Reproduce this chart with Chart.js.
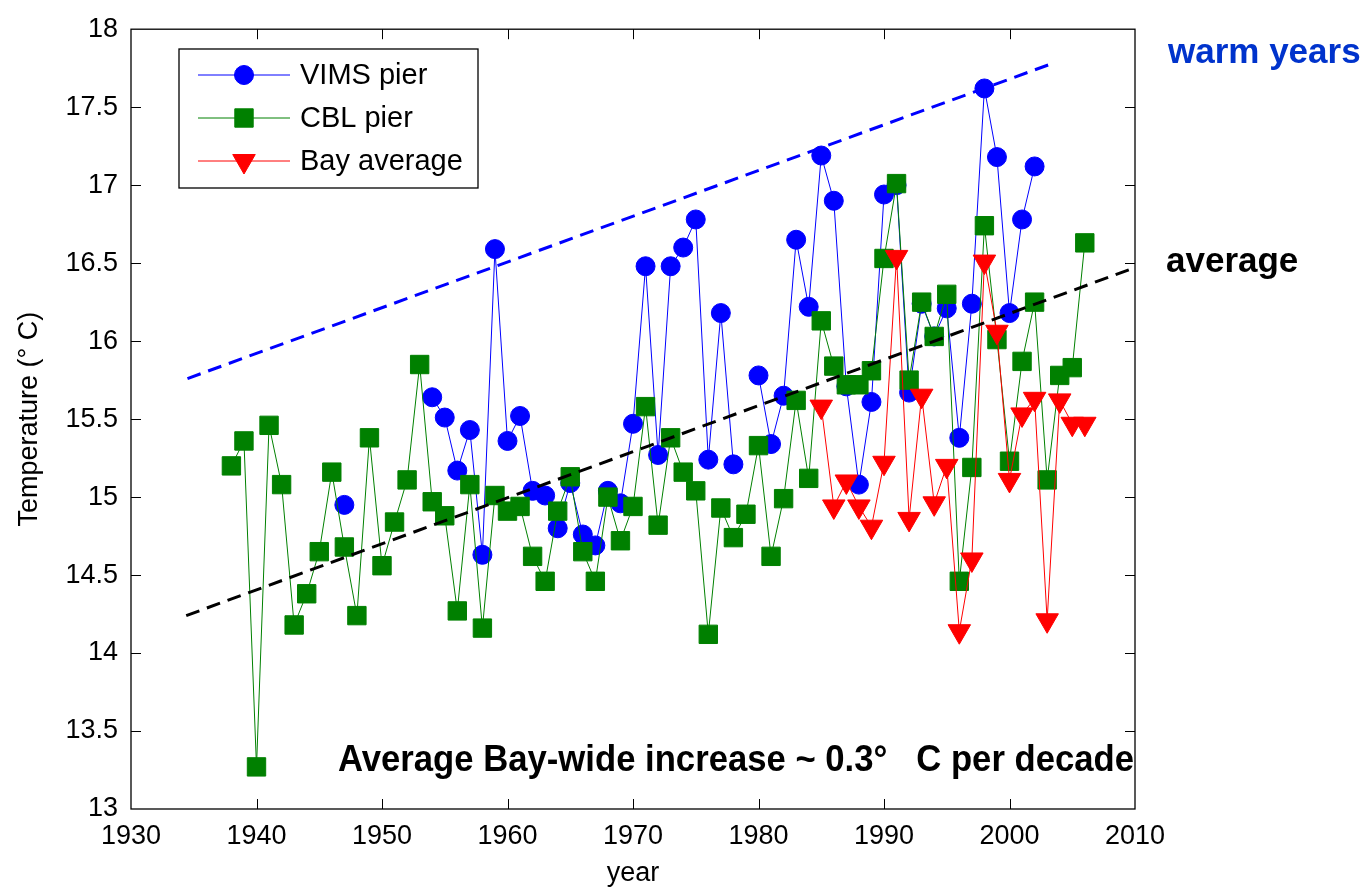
<!DOCTYPE html>
<html>
<head>
<meta charset="utf-8">
<script src="https://cdn.jsdelivr.net/npm/chart.js@4.4.1/dist/chart.umd.min.js"></script>
<style>
  body { margin: 0; background: #fff; }
  #wrap { width: 1362px; height: 890px; }
</style>
</head>
<body>
<div id="wrap"><canvas id="tempChart" width="1362" height="890"></canvas></div>
<script>
// yearly mean water temperature (null = no data)
const vimsYears = [1947, 1948, 1949, 1950, 1951, 1952, 1953, 1954, 1955, 1956, 1957, 1958, 1959,
  1960, 1961, 1962, 1963, 1964, 1965, 1966, 1967, 1968, 1969, 1970, 1971, 1972, 1973, 1974, 1975,
  1976, 1977, 1978, 1979, 1980, 1981, 1982, 1983, 1984, 1985, 1986, 1987, 1988, 1989, 1990, 1991,
  1992, 1993, 1994, 1995, 1996, 1997, 1998, 1999, 2000, 2001, 2002];
const vimsTemp = [14.95, null, null, null, null, null, null, 15.64, 15.51, 15.17, 15.43, 14.63, 16.59,
  15.36, 15.52, 15.04, 15.01, 14.80, 15.09, 14.76, 14.69, 15.04, 14.96, 15.47, 16.48, 15.27, 16.48, 16.60, 16.78,
  15.24, 16.18, 15.21, null, 15.78, 15.34, 15.65, 16.65, 16.22, 17.19, 16.90, 15.71, 15.08, 15.61, 16.94, 17.00,
  15.67, 16.24, 16.03, 16.21, 15.38, 16.24, 17.62, 17.18, 16.18, 16.78, 17.12];

const cblYears = [1938, 1939, 1940, 1941, 1942, 1943, 1944, 1945, 1946, 1947, 1948, 1949, 1950,
  1951, 1952, 1953, 1954, 1955, 1956, 1957, 1958, 1959, 1960, 1961, 1962, 1963, 1964, 1965, 1966,
  1967, 1968, 1969, 1970, 1971, 1972, 1973, 1974, 1975, 1976, 1977, 1978, 1979, 1980, 1981, 1982,
  1983, 1984, 1985, 1986, 1987, 1988, 1989, 1990, 1991, 1992, 1993, 1994, 1995, 1996, 1997, 1998,
  1999, 2000, 2001, 2002, 2003, 2004, 2005, 2006];
const cblTemp = [15.20, 15.36, 13.27, 15.46, 15.08, 14.18, 14.38, 14.65, 15.16, 14.68, 14.24, 15.38, 14.56,
  14.84, 15.11, 15.85, 14.97, 14.88, 14.27, 15.08, 14.16, 15.01, 14.91, 14.94, 14.62, 14.46, 14.91, 15.13, 14.65,
  14.46, 15.00, 14.72, 14.94, 15.58, 14.82, 15.38, 15.16, 15.04, 14.12, 14.93, 14.74, 14.89, 15.33, 14.62, 14.99,
  15.62, 15.12, 16.13, 15.84, 15.72, 15.72, 15.81, 16.53, 17.01, 15.75, 16.25, 16.03, 16.30, 14.46, 15.19, 16.74,
  16.01, 15.23, 15.87, 16.25, 15.11, 15.78, 15.83, 16.63];

const bayYears = [1985, 1986, 1987, 1988, 1989, 1990, 1991, 1992, 1993, 1994, 1995, 1996, 1997,
  1998, 1999, 2000, 2001, 2002, 2003, 2004, 2005, 2006];
const bayTemp = [15.58, 14.94, 15.10, 14.94, 14.81, 15.22, 16.54, 14.86, 15.65, 14.96, 15.20, 14.14, 14.60,
  16.51, 16.06, 15.11, 15.53, 15.63, 14.21, 15.62, 15.47, 15.47];

// dashed trend lines (end points)
const warmTrendYears = [1934.5, 2003.4];
const warmTrendTemp = [15.76, 17.78];
const avgTrendYears = [1934.4, 2009.6];
const avgTrendTemp = [14.24, 16.46];

const xTicks = [1930, 1940, 1950, 1960, 1970, 1980, 1990, 2000, 2010];
const yTicks = [13, 13.5, 14, 14.5, 15, 15.5, 16, 16.5, 17, 17.5, 18];

Chart.defaults.font.family = '"Liberation Sans", Arial, sans-serif';
Chart.defaults.color = '#000';

const toPoints = (xs, ys) => xs.map((x, i) => ({ x: x, y: ys[i] }));

function marker(ctx, style, x, y, r, color) {
  ctx.save();
  ctx.fillStyle = color;
  ctx.strokeStyle = color;
  ctx.lineWidth = 1;
  ctx.beginPath();
  if (style === 'circle') {
    ctx.arc(x, y, r, 0, Math.PI * 2);
  } else if (style === 'rect') {
    const h = r * Math.SQRT1_2;
    ctx.rect(x - h, y - h, 2 * h, 2 * h);
  } else {
    // downward triangle
    for (let k = 0; k < 3; k++) {
      const a = Math.PI + k * 2 * Math.PI / 3;
      const px = x + Math.sin(a) * r, py = y - Math.cos(a) * r;
      if (k === 0) ctx.moveTo(px, py); else ctx.lineTo(px, py);
    }
    ctx.closePath();
  }
  ctx.fill();
  ctx.stroke();
  ctx.restore();
}

const decorations = {
  id: 'decorations',
  afterDatasetsDraw(chart) {
    const { ctx, chartArea: a, scales } = chart;
    ctx.save();
    // axes box with inward ticks
    ctx.strokeStyle = '#000';
    ctx.lineWidth = 1.3;
    ctx.strokeRect(a.left, a.top, a.right - a.left, a.bottom - a.top);
    ctx.lineWidth = 1;
    ctx.beginPath();
    xTicks.slice(1, -1).forEach(v => {
      const px = Math.round(scales.x.getPixelForValue(v)) + 0.5;
      ctx.moveTo(px, a.bottom); ctx.lineTo(px, a.bottom - 10);
      ctx.moveTo(px, a.top); ctx.lineTo(px, a.top + 10);
    });
    yTicks.slice(1, -1).forEach(v => {
      const py = Math.round(scales.y.getPixelForValue(v)) + 0.5;
      ctx.moveTo(a.left, py); ctx.lineTo(a.left + 10, py);
      ctx.moveTo(a.right, py); ctx.lineTo(a.right - 10, py);
    });
    ctx.stroke();

    // legend box
    const lx = 179, ly = 49, lw = 299, lh = 139;
    ctx.fillStyle = '#fff';
    ctx.fillRect(lx, ly, lw, lh);
    ctx.strokeStyle = '#000';
    ctx.lineWidth = 1.3;
    ctx.strokeRect(lx, ly, lw, lh);
    const rows = [75, 118, 161];
    ctx.font = '29px "Liberation Sans", Arial, sans-serif';
    ctx.textBaseline = 'middle';
    for (let i = 0; i < 3; i++) {
      const ds = chart.data.datasets[i];
      const y = rows[i];
      ctx.strokeStyle = ds.borderColor;
      ctx.lineWidth = 1;
      ctx.beginPath();
      ctx.moveTo(198, y); ctx.lineTo(290, y);
      ctx.stroke();
      marker(ctx, ds.pointStyle, 244, y, ds.pointRadius, ds.backgroundColor);
      ctx.fillStyle = '#000';
      ctx.fillText(ds.label, 300, y + 1);
    }

    // text annotations
    ctx.textBaseline = 'alphabetic';
    ctx.font = 'bold 35px "Liberation Sans", Arial, sans-serif';
    ctx.fillStyle = '#0033cc';
    ctx.fillText('warm years', 1168, 63);
    ctx.fillStyle = '#000';
    ctx.fillText('average', 1166, 272);

    const note = 'Average Bay-wide increase ~ 0.3\u00b0   C per decade';
    ctx.font = 'bold 37px "Liberation Sans Narrow", "Liberation Sans", Arial, sans-serif';
    const w = ctx.measureText(note).width;
    const target = 1134 - 338;
    ctx.translate(338, 771);
    ctx.scale(target / w, 1);
    ctx.fillText(note, 0, 0);
    ctx.restore();
  }
};

new Chart(document.getElementById('tempChart'), {
  type: 'line',
  data: {
    datasets: [
      {
        label: 'VIMS pier', data: toPoints(vimsYears, vimsTemp),
        borderColor: '#0000ff', backgroundColor: '#0000ff', borderWidth: 1,
        pointStyle: 'circle', pointRadius: 9.5, pointBorderWidth: 1, spanGaps: false, order: 3
      },
      {
        label: 'CBL pier', data: toPoints(cblYears, cblTemp),
        borderColor: '#008000', backgroundColor: '#008000', borderWidth: 1,
        pointStyle: 'rect', pointRadius: 13, pointBorderWidth: 1, order: 2
      },
      {
        label: 'Bay average', data: toPoints(bayYears, bayTemp),
        borderColor: '#ff0000', backgroundColor: '#ff0000', borderWidth: 1,
        pointStyle: 'triangle', pointRotation: 180, pointRadius: 13, pointBorderWidth: 1, order: 1
      },
      {
        label: 'warm trend', data: toPoints(warmTrendYears, warmTrendTemp),
        borderColor: '#0000ff', borderWidth: 3, borderDash: [14, 8], pointRadius: 0, order: 0
      },
      {
        label: 'average trend', data: toPoints(avgTrendYears, avgTrendTemp),
        borderColor: '#000000', borderWidth: 3, borderDash: [14, 8], pointRadius: 0, order: 0
      }
    ]
  },
  options: {
    responsive: false,
    animation: false,
    layout: { padding: { top: 18, right: 227, left: 0, bottom: 0 } },
    plugins: {
      legend: { display: false },
      tooltip: { enabled: false }
    },
    scales: {
      x: {
        type: 'linear', min: 1930, max: 2010,
        grid: { display: false, drawTicks: false },
        border: { display: false },
        ticks: { font: { size: 27 }, padding: 11, maxRotation: 0, callback: v => String(v) },
        afterBuildTicks: s => { s.ticks = xTicks.map(v => ({ value: v })); },
        afterFit: s => { s.height = 81; },
        title: { display: true, text: 'year', font: { size: 27 }, padding: { top: 0, bottom: 0 } }
      },
      y: {
        type: 'linear', min: 13, max: 18,
        grid: { display: false, drawTicks: false },
        border: { display: false },
        ticks: { font: { size: 27 }, padding: 13, callback: v => String(v) },
        afterBuildTicks: s => { s.ticks = yTicks.map(v => ({ value: v })); },
        afterFit: s => { s.width = 131; },
        title: { display: true, text: 'Temperature (\u00b0 C)', font: { size: 27 }, padding: { top: 13, bottom: 0 } }
      }
    }
  },
  plugins: [decorations]
});
</script>
</body>
</html>
